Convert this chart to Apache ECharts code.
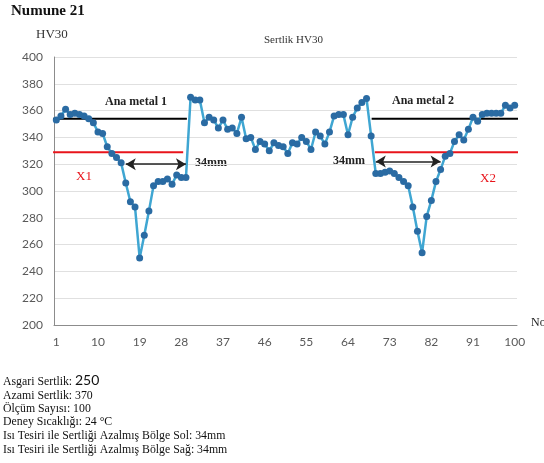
<!DOCTYPE html>
<html>
<head>
<meta charset="utf-8">
<script src="https://cdn.jsdelivr.net/npm/echarts@6/dist/echarts.min.js"></script>
<style>
  html, body { margin: 0; padding: 0; background: #fff; }
  #chart { width: 544px; height: 463px; }
</style>
</head>
<body>
<div id="chart"></div>
<script>
// Measurement positions 1..100
const positions = Array.from({ length: 100 }, (_, i) => String(i + 1));

// Vickers hardness readings (HV30)
const hardness = [
  353, 356, 361, 357, 358, 357, 356, 354, 351, 344,
  343, 333, 328, 325, 321, 306, 292, 288, 250, 267,
  285, 304, 307, 307, 309, 305, 312, 310, 310, 370,
  368, 368, 351, 355, 353, 347, 353, 346, 347, 343,
  355, 339, 340, 331, 337, 335, 330, 336, 334, 333,
  328, 336, 335, 340, 337, 331, 344, 341, 335, 344,
  356, 357, 357, 342, 355, 362, 366, 369, 341, 313,
  313, 314, 315, 313, 310, 307, 304, 288, 270, 254,
  281, 293, 307, 316, 326, 328, 337, 342, 338, 346,
  355, 352, 357, 358, 358, 358, 358, 364, 362, 364
];

// Reference levels: base metal average and reduced-hardness threshold
const baseMetalLevel = 354;
const thresholdLevel = 329;
// Extents of the reference lines along the measurement axis [from, to]
const baseMetalSpans = [[0.3, 29.2], [69.1, 101.4]];
const thresholdSpans = [[0.3, 28.4], [69.8, 101.4]];
// Heat-affected zones of reduced hardness [from, to, level]
const hazSpans = [[16, 29, 320], [70, 84, 322]];

const yTicks = { min: 200, max: 400, step: 20 };

const serif = '"Liberation Serif", "DejaVu Serif", serif';
const sans = 'Lato, "Open Sans", sans-serif';

const chart = echarts.init(document.getElementById('chart'), null, { renderer: 'canvas' });

function levelSeries(level, spans, color) {
  return spans.map(s => ({
    type: 'line',
    xAxisIndex: 1,
    data: [[s[0], level], [s[1], level]],
    symbol: 'none',
    clip: false,
    silent: true,
    lineStyle: { color: color, width: 2 },
    z: 1
  }));
}

const series = [
  ...levelSeries(baseMetalLevel, baseMetalSpans, '#000000'),
  ...levelSeries(thresholdLevel, thresholdSpans, '#e8141b'),
  {
    type: 'line',
    xAxisIndex: 1,
    data: [],
    silent: true,
    markLine: {
      silent: true,
      symbol: ['arrow', 'arrow'],
      symbolSize: [9, 10],
      label: { show: false },
      lineStyle: { color: '#222', width: 1.5, type: 'solid' },
      data: hazSpans.map(s => [{ coord: [s[0], s[2]] }, { coord: [s[1], s[2]] }])
    }
  },
  {
    name: 'Sertlik HV30',
    type: 'line',
    xAxisIndex: 0,
    data: hardness,
    symbol: 'circle',
    symbolSize: 7,
    showAllSymbol: true,
    lineStyle: { color: '#3fa6d2', width: 2.5 },
    itemStyle: { color: '#2a6ba3', borderWidth: 0 },
    z: 3
  }
];

const bodyFont = '11.8px ' + serif;

const option = {
  animation: false,
  backgroundColor: '#ffffff',
  grid: { left: 54, right: 27, top: 57, bottom: 138 },
  xAxis: [
    {
      type: 'category',
      data: positions,
      boundaryGap: true,
      axisLine: { show: true, lineStyle: { color: '#8c8c8c', width: 1 } },
      axisTick: { show: false },
      axisLabel: { interval: 8, color: '#595959', fontFamily: sans, fontSize: 12, margin: 11 },
      splitLine: { show: false }
    },
    {
      type: 'value',
      min: 0.5,
      max: 100.5,
      show: false
    }
  ],
  yAxis: {
    type: 'value',
    min: yTicks.min,
    max: yTicks.max,
    interval: yTicks.step,
    axisLine: { show: true, lineStyle: { color: '#8c8c8c', width: 1 } },
    axisTick: { show: false },
    axisLabel: { color: '#595959', fontFamily: sans, fontSize: 12, margin: 11 },
    splitLine: { show: true, lineStyle: { color: '#e0e0e0', width: 1 } }
  },
  series: series,
  graphic: [
    { type: 'text', left: 11, top: 4, style: { text: 'Numune 21', font: 'bold 15px ' + serif, fill: '#111' } },
    { type: 'text', left: 36, top: 28, style: { text: 'HV30', font: '13px ' + serif, fill: '#333' } },
    { type: 'text', left: 264, top: 35, style: { text: 'Sertlik HV30', font: '11px ' + serif, fill: '#333' } },
    { type: 'text', left: 531, top: 317, style: { text: 'No', font: '12px ' + serif, fill: '#222' } },
    { type: 'text', left: 105, top: 96, style: { text: 'Ana metal 1', font: 'bold 12px ' + serif, fill: '#222' } },
    { type: 'text', left: 392, top: 95, style: { text: 'Ana metal 2', font: 'bold 12px ' + serif, fill: '#222' } },
    { type: 'text', left: 76, top: 170, style: { text: 'X1', font: '13px ' + serif, fill: '#e8141b' } },
    { type: 'text', left: 480, top: 172, style: { text: 'X2', font: '13px ' + serif, fill: '#e8141b' } },
    { type: 'text', left: 195, top: 157, style: { text: '34mm', font: 'bold 12px ' + serif, fill: '#222' } },
    { type: 'text', left: 333, top: 155, style: { text: '34mm', font: 'bold 12px ' + serif, fill: '#222' } },
    {
      type: 'group', left: 3, top: 373,
      children: [
        { type: 'text', x: 0, y: 3, style: { text: 'Asgari Sertlik:', font: bodyFont, fill: '#111' } },
        { type: 'text', x: 72, y: 0, style: { text: '250', font: '14px ' + sans, fill: '#111' } },
        { type: 'text', x: 0, y: 17, style: { text: 'Azami Sertlik: 370', font: bodyFont, fill: '#111' } },
        { type: 'text', x: 0, y: 30, style: { text: 'Ölçüm Sayısı: 100', font: bodyFont, fill: '#111' } },
        { type: 'text', x: 0, y: 43, style: { text: 'Deney Sıcaklığı: 24 °C', font: bodyFont, fill: '#111' } },
        { type: 'text', x: 0, y: 57, style: { text: 'Isı Tesiri ile Sertliği Azalmış Bölge Sol: 34mm', font: bodyFont, fill: '#111' } },
        { type: 'text', x: 0, y: 71, style: { text: 'Isı Tesiri ile Sertliği Azalmış Bölge Sağ: 34mm', font: bodyFont, fill: '#111' } }
      ]
    }
  ]
};

chart.setOption(option);
</script>
</body>
</html>
